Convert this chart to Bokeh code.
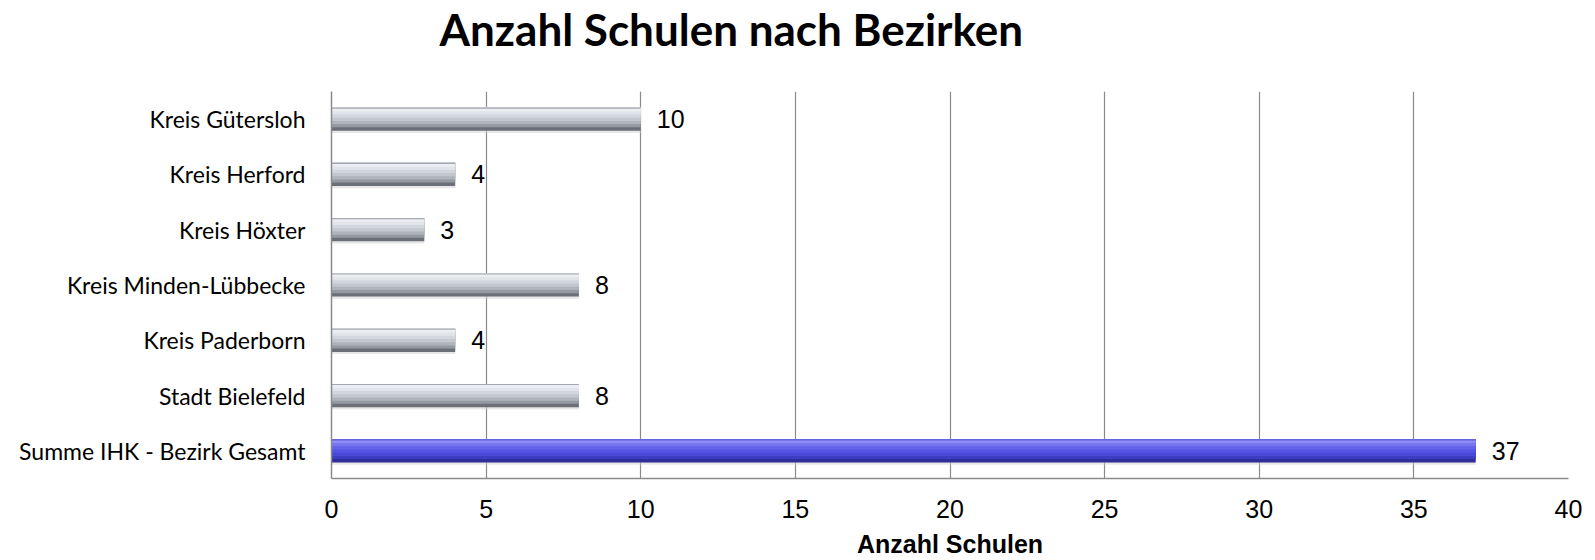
from bokeh.plotting import figure
from bokeh.models import FactorRange, FixedTicker, ColumnDataSource, Title, LinearAxis
from bokeh.transform import dodge
from bokeh.core.properties import value
from bokeh.embed import file_html
from bokeh.resources import INLINE

# ---- data ----
categories = [
    "Kreis Gütersloh",
    "Kreis Herford",
    "Kreis Höxter",
    "Kreis Minden-Lübbecke",
    "Kreis Paderborn",
    "Stadt Bielefeld",
    "Summe IHK - Bezirk Gesamt",
]
schulen = [10, 4, 3, 8, 4, 8, 37]
total_category = "Summe IHK - Bezirk Gesamt"
x_ticks = [0, 5, 10, 15, 20, 25, 30, 35, 40]

title_text = "Anzahl Schulen nach Bezirken"
x_label = "Anzahl Schulen"

# ---- styling ----
BAR_H = 0.42
is_total = [c == total_category for c in categories]
# (fraction of bar height measured from the top, grey colour, blue colour)
bands = [
    (1.00, "#6b7078", "#2e2e98"),
    (0.85, "#959aa2", "#3d3dc2"),
    (0.72, "#afb4bc", "#4a4ad8"),
    (0.58, "#c3c7ce", "#5555e4"),
    (0.44, "#d3d7dd", "#6262ea"),
    (0.30, "#e1e4e9", "#7676f0"),
    (0.16, "#eceef2", "#8e8ef5"),
    (0.05, "#a3a8b0", "#5a5ad8"),
]

src = ColumnDataSource(dict(cat=categories, val=schulen,
                            lab=[str(v) for v in schulen]))
for i, (f, g, b) in enumerate(bands):
    src.data[f"c{i}"] = [b if t else g for t in is_total]

p = figure(width=1595, height=560, output_backend="svg", toolbar_location=None,
           title=None,
           y_range=FactorRange(factors=list(reversed(categories))),
           x_range=(0, 40),
           min_border_left=331, min_border_right=27, min_border_top=91,
           min_border_bottom=40)

xax = p.below[0]

# invisible spacer between plot area and title
spacer = LinearAxis(ticker=FixedTicker(ticks=[0]), axis_line_color=None,
                    major_tick_line_color=None, minor_tick_line_color=None,
                    major_tick_out=33, major_tick_in=0, minor_tick_out=0,
                    major_label_standoff=0, major_label_text_font_size="1px",
                    major_label_overrides={0: ""})
p.add_layout(spacer, "above")

# title
p.add_layout(Title(text=title_text, text_font="Lato", text_font_style="bold",
                   text_font_size="44px", align="left", offset=108,
                   vertical_align="top", standoff=3, text_color="#000000"),
             "above")

# soft shadow under bars
p.hbar(y=dodge("cat", -0.04, range=p.y_range), right="val", height=BAR_H, left=0,
       source=src, color="#d0d0d0", alpha=0.5, line_color=None)
# layered bands imitating the bevelled gradient
for i, (f, g, b) in enumerate(bands):
    h = BAR_H * f
    p.hbar(y=dodge("cat", BAR_H / 2 - h / 2, range=p.y_range), right="val",
           height=h, left=0, source=src, fill_color=f"c{i}", line_color=None)

# value labels
p.text(x="val", y="cat", text="lab", source=src, x_offset=16,
       text_baseline="middle", text_align="left",
       text_font=value("Liberation Sans"), text_font_size="25px",
       text_color="#000000")

# x axis
xax.ticker = FixedTicker(ticks=x_ticks)
xax.axis_label = x_label
xax.axis_label_text_font = "Liberation Sans"
xax.axis_label_text_font_style = "bold"
xax.axis_label_text_font_size = "25px"
xax.axis_label_text_color = "#000000"
xax.axis_label_standoff = 9
xax.major_label_text_font = "Liberation Sans"
xax.major_label_text_font_size = "25px"
xax.major_label_text_color = "#000000"
xax.major_label_standoff = 15
xax.major_tick_line_color = None
xax.minor_tick_line_color = None
xax.axis_line_color = "#8a8a8a"
xax.axis_line_width = 1.5

# y axis
p.yaxis.major_label_text_font = "Lato"
p.yaxis.major_label_text_font_size = "23px"
p.yaxis.major_label_text_color = "#000000"
p.yaxis.major_label_standoff = 20
p.yaxis.major_tick_line_color = None
p.yaxis.minor_tick_line_color = None
p.yaxis.axis_line_color = "#8a8a8a"
p.yaxis.axis_line_width = 1.5

p.xgrid.grid_line_color = "#8a8a8a"
p.xgrid.grid_line_width = 1.2
p.ygrid.grid_line_color = None
p.outline_line_color = None
p.background_fill_color = "white"
p.border_fill_color = "white"

open("out.html", "w").write(file_html(p, INLINE))
